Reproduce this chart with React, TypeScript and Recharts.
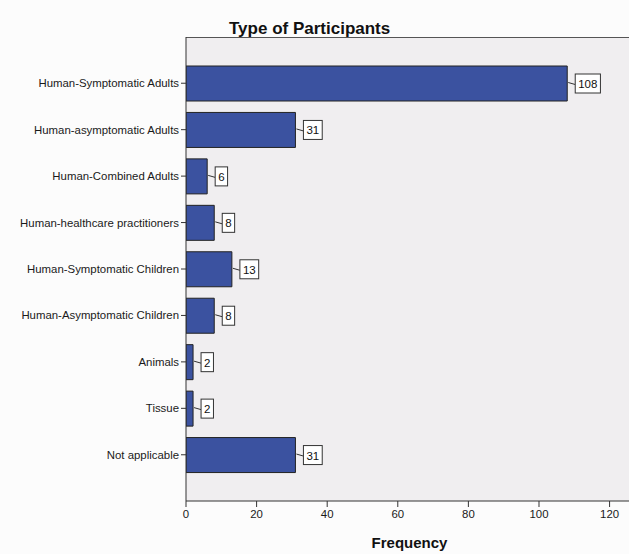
import { Bar, BarChart, CartesianGrid, LabelList, XAxis, YAxis, usePlotArea } from 'recharts';

const categories = [
  'Human-Symptomatic Adults',
  'Human-asymptomatic Adults',
  'Human-Combined Adults',
  'Human-healthcare practitioners',
  'Human-Symptomatic Children',
  'Human-Asymptomatic Children',
  'Animals',
  'Tissue',
  'Not applicable',
];

const frequencies = [108, 31, 6, 8, 13, 8, 2, 2, 31];

const xTicks = [0, 20, 40, 60, 80, 100, 120];

const data = categories.map((name, i) => ({ name, value: frequencies[i] }));

const FONT = 'Arial, "Liberation Sans", sans-serif';

// single-line category label (the default tick wraps long names)
function CategoryTick(props: any) {
  const { x, y, payload } = props;
  return (
    <text x={x} y={y} dy={4} textAnchor="end" fontSize={11.4} fontFamily={FONT} fill="#1a1a1a">
      {payload.value}
    </text>
  );
}

// boxed value label joined to the bar end by a short leader line
function ValueBox(props: any) {
  const { x, y, width, height, value } = props;
  const endX = x + width;
  const midY = y + height / 2;
  const text = String(value);
  const boxW = text.length * 6.4 + 6;
  const boxH = 19;
  const boxX = endX + 8;
  return (
    <g>
      <line x1={endX + 1} y1={midY - 1} x2={boxX} y2={midY + 1} stroke="#333" strokeWidth={1} />
      <rect x={boxX} y={midY - boxH / 2} width={boxW} height={boxH} fill="#fff" stroke="#333" strokeWidth={1} />
      <text x={boxX + boxW / 2} y={midY + 4.5} textAnchor="middle" fontSize={11.5} fontFamily={FONT} fill="#111">
        {text}
      </text>
    </g>
  );
}

// frame line along the top edge of the plot area
function TopFrame() {
  const area = usePlotArea();
  if (!area) return null;
  return (
    <line x1={area.x} y1={area.y + 0.5} x2={area.x + area.width} y2={area.y + 0.5} stroke="#555" strokeWidth={1} />
  );
}

export default function App() {
  return (
    <div style={{ position: 'absolute', left: 0, top: 0, width: 629, height: 554, background: '#fcfcfc' }}>
      <BarChart
        width={629}
        height={554}
        data={data}
        layout="vertical"
        margin={{ top: 37, right: 0, bottom: 22, left: 0 }}
        style={{ position: 'absolute', left: 0, top: 0 }}
      >
        <text x={229} y={34} fontSize={17} fontWeight="bold" fontFamily={FONT} fill="#111">
          Type of Participants
        </text>
        <CartesianGrid fill="#f0eef0" fillOpacity={1} horizontal={false} vertical={false} />
        <TopFrame />
        <XAxis
          type="number"
          domain={[0, 125.5]}
          ticks={xTicks}
          allowDataOverflow
          height={31}
          tickSize={6}
          tickMargin={3}
          tick={{ fontSize: 11.4, fontFamily: FONT, fill: '#1a1a1a' }}
          axisLine={{ stroke: '#333' }}
          tickLine={{ stroke: '#333' }}
          label={{
            value: 'Frequency',
            position: 'insideBottom',
            offset: -16,
            dx: 2,
            style: { fontSize: 15, fontWeight: 'bold', fontFamily: FONT, fill: '#111' },
          }}
        />
        <YAxis
          type="category"
          dataKey="name"
          width={186}
          padding={{ top: 23, bottom: 23 }}
          tickSize={5}
          tickMargin={2}
          interval={0}
          tick={<CategoryTick />}
          axisLine={{ stroke: '#333' }}
          tickLine={{ stroke: '#333' }}
        />
        <Bar dataKey="value" barSize={35} fill="#3b52a0" stroke="#222" strokeWidth={1} isAnimationActive={false}>
          <LabelList dataKey="value" content={<ValueBox />} />
        </Bar>
      </BarChart>
    </div>
  );
}
